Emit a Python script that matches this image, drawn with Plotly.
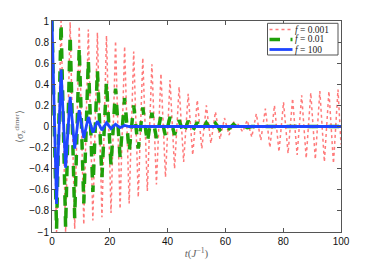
import plotly.graph_objects as go

# extremum times (t in units of 1/J)
t_ext = [0.0, 1.57, 3.14, 4.71, 6.28, 7.85, 9.42, 11.0, 12.57, 14.14,
         15.71, 17.28, 18.85, 20.42, 21.99, 23.56, 25.13, 26.7, 28.27, 29.85,
         31.42, 32.99, 34.56, 36.13, 37.7, 39.27, 40.84, 42.41, 43.98, 45.55,
         47.12, 48.69, 50.27, 51.84, 53.41, 54.98, 56.55, 58.12, 59.69, 61.26,
         62.83, 64.4, 65.97, 67.54, 69.12, 70.69, 72.26, 73.83, 75.4, 76.97,
         78.54, 80.11, 81.68, 83.25, 84.82, 86.39, 87.96, 89.54, 91.11, 92.68,
         94.25, 95.82, 97.39, 98.96, 100.0]

sz_f0001 = [1.0, -1.0, 1.0, -1.0, 0.99, -0.97, 0.95, -0.93, 0.92, -0.89,
            0.89, -0.86, 0.86, -0.82, 0.81, -0.78, 0.76, -0.73, 0.71, -0.67,
            0.65, -0.61, 0.59, -0.55, 0.5, -0.48, 0.44, -0.40, 0.375, -0.335,
            0.31, -0.27, 0.25, -0.21, 0.2, -0.16, 0.14, -0.12, 0.08, -0.08,
            0.04, 0.02, -0.05, 0.06, -0.1, 0.12, -0.13, 0.17, -0.2, 0.2,
            -0.24, 0.23, -0.255, 0.265, -0.27, 0.296, -0.3, 0.32, -0.31, 0.335,
            -0.335, 0.335, -0.35, 0.35, -0.17]

t_f001 = [0.0, 1.57, 3.14, 4.71, 6.28, 7.85, 9.42, 11.0, 12.57, 14.14,
          15.71, 17.28, 18.85, 20.42, 21.99, 23.56, 25.13, 26.7, 28.27, 29.85,
          31.42, 32.99, 34.56, 36.13, 37.7, 39.27, 40.84, 42.41, 43.98, 45.55,
          47.12, 48.69, 50.27, 51.84, 53.41, 54.98, 56.55, 58.12, 59.69, 61.26,
          62.83, 64.4, 65.97, 67.54, 69.12, 100.0]
sz_f001 = [1.0, -0.98, 0.98, -0.96, 0.87, -0.87, 0.75, -0.73, 0.63, -0.62,
           0.53, -0.48, 0.42, -0.37, 0.36, -0.29, 0.27, -0.24, 0.2, -0.21,
           0.18, -0.15, 0.13, -0.11, 0.1, -0.09, 0.09, -0.08, 0.06, -0.07,
           0.055, -0.04, 0.04, -0.04, 0.035, -0.03, 0.03, -0.03, 0.02, -0.02,
           0.02, -0.015, 0.01, -0.01, 0.0, 0.0]

t_f100 = [0.0, 1.57, 3.14, 4.71, 6.28, 7.85, 9.42, 11.0, 12.57, 14.14,
          15.71, 17.28, 18.85, 20.42, 21.99, 23.56, 25.13, 26.7, 28.27, 100.0]
sz_f100 = [1.0, -0.735, 0.54, -0.39, 0.28, -0.21, 0.155, -0.11, 0.09, -0.057,
           0.05, -0.035, 0.035, -0.02, 0.02, -0.01, 0.01, 0.0, 0.0, 0.0]

names = ["<i>f</i> = 0.001", "<i>f</i> = 0.01", "<i>f</i> = 100"]
colors = ["rgba(255,50,50,0.65)", "rgb(30,160,10)", "rgb(30,70,255)"]
widths = [1.5, 3.5, 2.8]
dashes = ["dot", "dash", "solid"]
y_ticks = [-1, -0.8, -0.6, -0.4, -0.2, 0, 0.2, 0.4, 0.6, 0.8, 1]
x_ticks = [0, 20, 40, 60, 80, 100]

series = [(t_ext, sz_f0001), (t_f001, sz_f001), (t_f100, sz_f100)]

fig = go.Figure()
for (tx, sy), nm, c, w, d in zip(series, names, colors, widths, dashes):
    fig.add_trace(go.Scatter(x=tx, y=sy, mode="lines", name=nm, showlegend=False,
                             line=dict(color=c, width=w, dash=d)))

axis_common = dict(showgrid=False, zeroline=False, showline=True, linecolor="#555",
                   linewidth=1, mirror="ticks", ticks="inside", ticklen=4,
                   tickcolor="#555", automargin=False,
                   tickfont=dict(family="Liberation Sans", size=10, color="#111"))

# page has an 8px body margin; figure is sized to fill the rest of the window
OFF = 8
W, H = 374 - OFF, 268 - OFF
# plot area in window pixels: x 52..341, y 21..232
L, R, T, B = 52 - OFF, 374 - 341, 21 - OFF, 268 - 232
pw, ph = W - L - R, H - T - B
def px(xp):
    return (xp - OFF - L) / pw
def py(yp):
    return (H - B - (yp - OFF)) / ph

shapes = [dict(type="rect", xref="paper", yref="paper",
               x0=px(267.5), x1=px(338), y0=py(55), y1=py(23.3),
               line=dict(color="#555", width=1), fillcolor="white", layer="above")]
annotations = []
row_y = [29.5, 39.5, 49.5]
for nm, c, w, d, ry in zip(names, colors, widths, dashes, row_y):
    shapes.append(dict(type="line", xref="paper", yref="paper",
                       x0=px(269.5), x1=px(292.5), y0=py(ry), y1=py(ry),
                       line=dict(color=c, width=w, dash=d), layer="above"))
    annotations.append(dict(xref="paper", yref="paper", x=px(293.5), y=py(ry),
                            xanchor="left", yanchor="middle", showarrow=False,
                            borderpad=0,
                            text=nm, font=dict(family="Liberation Serif", size=9.5, color="#222")))

fig.update_layout(
    width=W, height=H,
    margin=dict(l=L, r=R, t=T, b=B),
    paper_bgcolor="white", plot_bgcolor="white",
    showlegend=False,
    shapes=shapes, annotations=annotations,
    xaxis=dict(range=[0, 100], tickvals=x_ticks,
               title=dict(text="<i>t</i>(<i>J</i><sup>−1</sup>)", standoff=3,
                          font=dict(family="Liberation Serif", size=11, color="#666")),
               **axis_common),
    yaxis=dict(range=[-1, 1], tickvals=y_ticks,
               title=dict(text="⟨σ<sub>z</sub><sup>dimer</sup>⟩", standoff=3,
                          font=dict(family="Liberation Serif", size=10, color="#666")),
               **axis_common),
)

fig.write_html("out.html")
